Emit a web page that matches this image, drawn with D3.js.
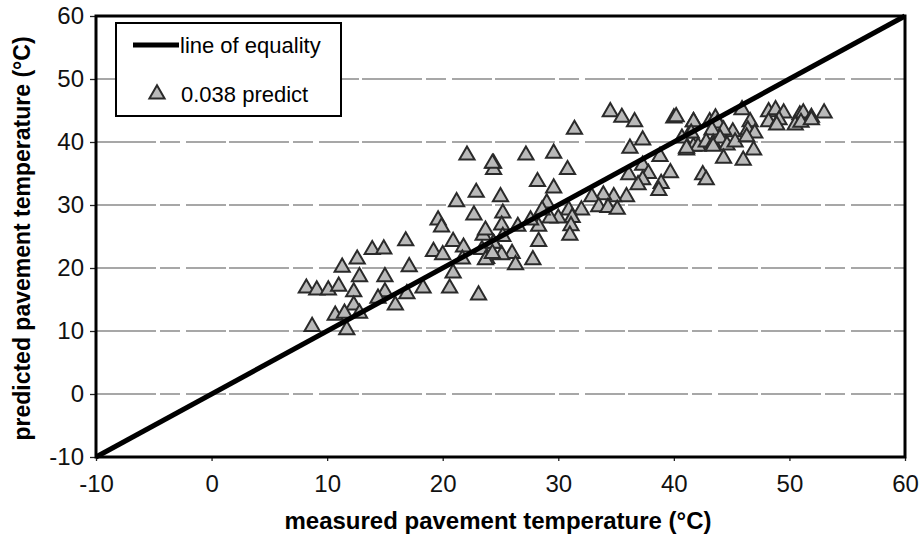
<!DOCTYPE html>
<html>
<head>
<meta charset="utf-8">
<script src="https://cdn.jsdelivr.net/npm/d3@7"></script>
<style>
body { margin: 0; background: #fff; }
svg { font-family: "Liberation Sans", Arial, sans-serif; }
</style>
</head>
<body>
<svg id="chart" width="923" height="540"></svg>
<script>
const xTicks = [-10, 0, 10, 20, 30, 40, 50, 60]
const yTicks = [-10, 0, 10, 20, 30, 40, 50, 60]
const gridValues = [0, 10, 20, 30, 40, 50]
const equality = [[-10, -10], [60, 60]]
const measured = [
  8.7, 8.2, 9.1, 10.1, 11.0, 11.3, 12.6, 12.8, 12.3, 12.3, 10.7, 11.5, 11.7, 12.8,
  13.9, 14.9, 15.0, 15.0, 14.4, 15.9, 16.8, 17.1, 16.9, 18.3, 19.2, 19.6, 19.9, 20.9,
  20.0, 20.9, 20.6, 21.2, 22.1, 22.9, 22.7, 21.8, 21.7, 23.1, 24.4, 24.4, 23.5, 23.4,
  23.8, 24.4,
  34.5, 35.5, 36.6, 31.4, 37.3, 36.2, 40.0, 40.2, 41.7, 41.4, 41.1, 41.7, 38.8, 39.7,
  37.3, 37.8, 37.3, 36.9, 38.9, 38.7, 36.1, 35.9, 34.8, 33.9, 32.9, 33.5, 34.3, 35.1,
  32.0, 30.9, 31.2, 31.1, 31.0, 30.0, 29.3, 29.0, 28.6, 29.6, 30.8, 28.2, 29.6, 27.2,
  25.0, 24.3, 28.3, 28.3, 27.6, 26.5, 25.2, 25.1, 25.2, 26.0, 26.3, 27.8, 25.1, 24.4,
  23.7, 23.7, 24.3,
  48.2, 48.8, 49.5, 48.2, 49.1, 48.9, 50.9, 51.2, 51.9, 50.5, 51.0, 51.9, 53.0, 45.9,
  41.7, 43.1, 43.6, 43.8, 46.6, 46.4, 47.0, 45.1, 44.3, 43.3, 41.5, 40.7, 42.1, 41.1,
  42.8, 43.4, 44.0, 44.6, 45.3, 46.3, 46.9, 44.3, 46.0, 42.5, 42.8, 43.4
]
const predicted = [
  10.7, 16.8, 16.5, 16.5, 17.1, 20.1, 21.4, 18.6, 16.2, 14.1, 12.5, 12.8, 10.2, 12.8,
  22.9, 23.0, 18.6, 16.2, 15.2, 14.1, 24.3, 20.2, 15.9, 16.8, 22.6, 27.6, 26.5, 24.2,
  22.1, 19.2, 16.8, 30.5, 37.9, 32.0, 28.4, 23.3, 21.4, 15.7, 36.6, 35.6, 25.2, 22.9,
  21.5, 23.9,
  44.8, 43.9, 43.2, 42.0, 40.3, 39.0, 43.8, 44.0, 43.2, 41.4, 38.7, 39.3, 37.7, 35.1,
  36.3, 35.0, 34.0, 33.2, 33.4, 32.3, 34.8, 31.3, 31.3, 31.6, 31.3, 29.7, 29.6, 29.3,
  29.2, 29.2, 28.0, 26.7, 25.2, 27.9, 27.9, 30.3, 29.2, 32.7, 35.6, 33.7, 38.2, 37.9,
  31.3, 36.6, 26.6, 24.2, 27.6, 26.6, 28.7, 26.8, 25.0, 22.3, 20.5, 21.3, 22.1, 23.9,
  26.0, 21.3, 22.3,
  44.8, 45.1, 44.6, 43.2, 43.5, 42.7, 44.3, 44.6, 43.9, 42.7, 43.1, 43.5, 44.6, 45.1,
  43.2, 43.2, 43.8, 43.0, 43.2, 41.9, 41.4, 41.6, 41.9, 41.9, 41.4, 40.6, 39.3, 39.0,
  40.0, 39.8, 40.6, 39.5, 40.0, 40.8, 38.7, 37.4, 37.1, 34.8, 34.0, 39.3
]
const points = measured.map((m, i) => ({ m, p: predicted[i] }))

const svg = d3.select('#chart')
const m = { top: 16, left: 96, right: 18, bottom: 83 }
const w = 923 - m.left - m.right, h = 540 - m.top - m.bottom
const x = d3.scaleLinear().domain([-10, 60]).range([0, w])
const y = d3.scaleLinear().domain([-10, 60]).range([h, 0])
const g = svg.append('g').attr('transform', `translate(${m.left},${m.top})`)

// gridlines (scanned look: broken grey lines)
g.selectAll('.grid').data(gridValues).enter().append('line')
  .attr('x1', 0).attr('x2', w).attr('y1', d => y(d)).attr('y2', d => y(d))
  .attr('stroke', '#8a8a8a').attr('stroke-width', 1.3).attr('stroke-dasharray', '60,4,20,6,40,3')

// axes
const xa = g.append('g').attr('transform', `translate(0,${h})`)
  .call(d3.axisBottom(x).tickValues(xTicks).tickSize(4).tickPadding(14).tickFormat(d => String(d)))
const ya = g.append('g')
  .call(d3.axisLeft(y).tickValues(yTicks).tickSize(6).tickPadding(6).tickFormat(d => String(d)))
;[xa, ya].forEach(a => {
  a.select('.domain').remove()
  a.selectAll('line').attr('stroke', '#222').attr('stroke-width', 1.3)
  a.selectAll('text').attr('font-size', 24).attr('fill', '#111')
    .attr('font-family', '"Liberation Sans", Arial, sans-serif')
})

// triangles
const tri = d3.symbol().type(d3.symbolTriangle).size(100)
g.selectAll('.pt').data(points).enter().append('path')
  .attr('d', tri)
  .attr('transform', d => `translate(${x(d.m)},${y(d.p)})`)
  .attr('fill', '#b9b9b9').attr('stroke', '#2a2a2a').attr('stroke-width', 2)

// line of equality
g.append('path').datum(equality)
  .attr('d', d3.line().x(d => x(d[0])).y(d => y(d[1])))
  .attr('stroke', '#000').attr('stroke-width', 5).attr('fill', 'none')

// plot frame
g.append('rect').attr('width', w).attr('height', h)
  .attr('fill', 'none').attr('stroke', '#000').attr('stroke-width', 3)

// legend
const lg = g.append('g').attr('transform', 'translate(20,7)')
lg.append('rect').attr('width', 225).attr('height', 93)
  .attr('fill', '#fff').attr('stroke', '#000').attr('stroke-width', 2)
lg.append('line').attr('x1', 17).attr('x2', 63).attr('y1', 22).attr('y2', 22)
  .attr('stroke', '#000').attr('stroke-width', 5)
lg.append('text').attr('x', 64).attr('y', 30).attr('font-size', 22).text('line of equality')
lg.append('path').attr('d', tri).attr('transform', 'translate(41,71)')
  .attr('fill', '#b9b9b9').attr('stroke', '#2a2a2a').attr('stroke-width', 2)
lg.append('text').attr('x', 65).attr('y', 79).attr('font-size', 22).text('0.038 predict')

// axis titles
svg.append('text').attr('x', 498).attr('y', 529)
  .attr('text-anchor', 'middle').attr('font-size', 24).attr('font-weight', 'bold')
  .text('measured pavement temperature (°C)')
svg.append('text').attr('transform', `translate(30,${m.top + h / 2 + 2}) rotate(-90)`)
  .attr('text-anchor', 'middle').attr('font-size', 23).attr('font-weight', 'bold')
  .text('predicted pavement temperature (°C)')
</script>
</body>
</html>
